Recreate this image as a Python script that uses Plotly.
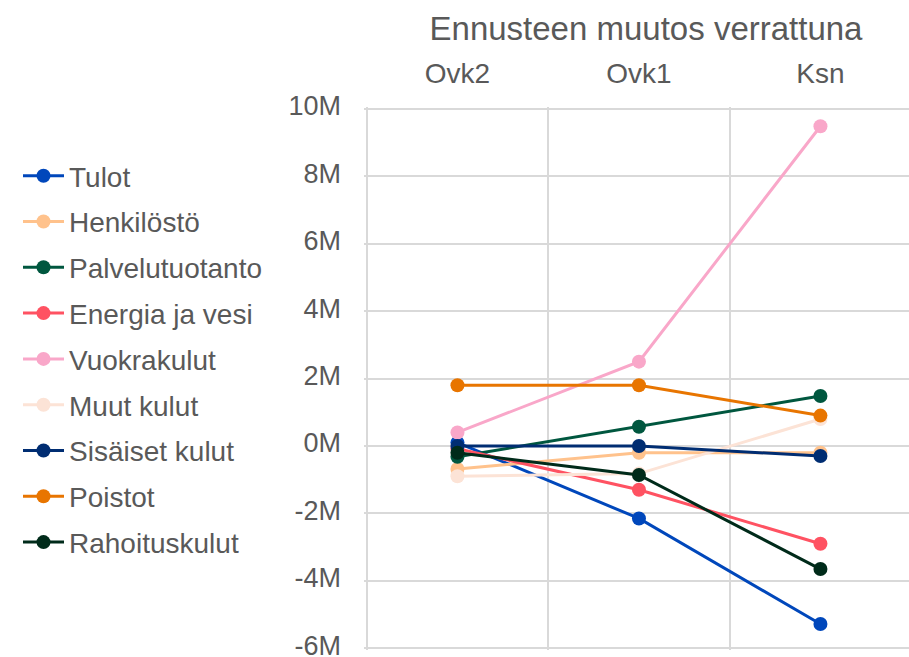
import plotly.graph_objects as go

categories = ["Ovk2", "Ovk1", "Ksn"]
series_names = ["Tulot", "Henkilöstö", "Palvelutuotanto", "Energia ja vesi", "Vuokrakulut",
                "Muut kulut", "Sisäiset kulut", "Poistot", "Rahoituskulut"]
tulot = [0.1e6, -2.15e6, -5.28e6]
henkilosto = [-0.68e6, -0.2e6, -0.2e6]
palvelutuotanto = [-0.32e6, 0.57e6, 1.48e6]
energia = [-0.08e6, -1.3e6, -2.9e6]
vuokrakulut = [0.4e6, 2.5e6, 9.48e6]
muut = [-0.9e6, -0.82e6, 0.8e6]
sisaiset = [0.0, 0.0, -0.3e6]
poistot = [1.8e6, 1.8e6, 0.9e6]
rahoitus = [-0.2e6, -0.86e6, -3.65e6]
values = [tulot, henkilosto, palvelutuotanto, energia, vuokrakulut, muut, sisaiset, poistot, rahoitus]
colors = ["#0047BB", "#FFC28C", "#00573F", "#FF5262", "#F9A7C9", "#FCE3D6", "#002D72", "#E87500", "#002B1A"]

tick_vals = [10e6, 8e6, 6e6, 4e6, 2e6, 0, -2e6, -4e6, -6e6]
tick_text = ["10M", "8M", "6M", "4M", "2M", "0M", "-2M", "-4M", "-6M"]

fig = go.Figure()
for i, (name, vals, col) in enumerate(zip(series_names, values, colors)):
    fig.add_trace(go.Scatter(
        x=categories, y=vals, name=name, mode="lines+markers",
        line=dict(color=col, width=3), marker=dict(color=col, size=14),
        legendgroup=f"g{i}"))

W, H = 909, 657
L, T, B = 364, 107, 7
plot_h = H - T - B
font_family = "Liberation Sans, Arial, sans-serif"
fig.update_layout(
    width=W, height=H,
    margin=dict(l=L, r=0, t=T, b=B, autoexpand=False),
    paper_bgcolor="white", plot_bgcolor="white",
    font=dict(family=font_family, size=27, color="#595959"),
    title=dict(text="Ennusteen muutos verrattuna", x=646/W, xanchor="center",
               y=1 - 28/H, yanchor="middle", font=dict(size=33, color="#595959")),
    legend=dict(xref="paper", yref="paper", x=(18 - L)/(W - L), y=1 - (151 - T)/plot_h,
                xanchor="left", yanchor="top", traceorder="grouped", tracegroupgap=6.4,
                itemwidth=41,
                font=dict(size=28, color="#595959"), bgcolor="rgba(0,0,0,0)"),
    showlegend=True,
)
fig.update_xaxes(
    type="category", side="top", range=[-0.515, 2.488], tickson="boundaries",
    showgrid=True, gridcolor="#D9D9D9", gridwidth=1.5, ticks="", showline=False,
    zeroline=False, tickfont=dict(size=28, color="#595959"), ticklabelstandoff=17,
    automargin=False, ticklabeloverflow="allow",
)
fig.update_yaxes(
    range=[-6.05e6, 10.05e6], tickvals=tick_vals, ticktext=tick_text,
    showgrid=True, gridcolor="#D9D9D9", gridwidth=1.5, zeroline=False,
    ticks="", tickfont=dict(size=27, color="#595959"), ticklabelstandoff=22,
    ticklabelshift=-3,
    automargin=False, ticklabeloverflow="allow",
)
fig.write_html("out.html", config={"displayModeBar": False},
               post_script="document.body.style.margin='0';")
